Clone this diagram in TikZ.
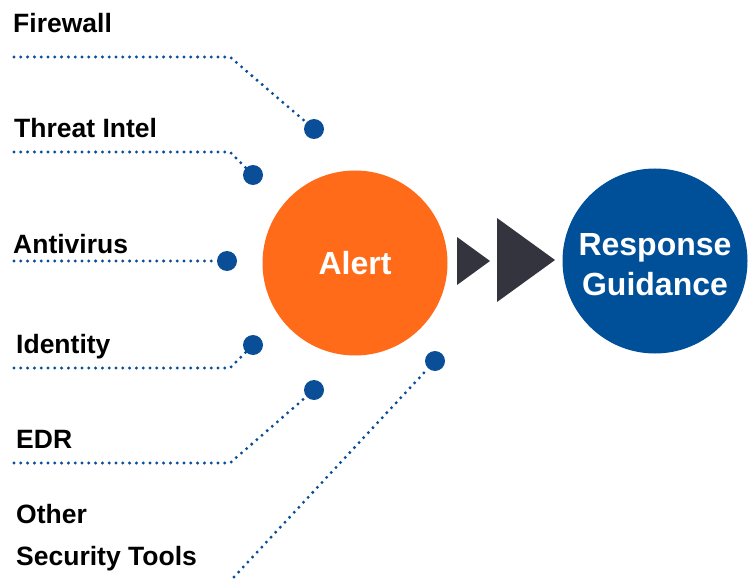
\documentclass[tikz,border=0pt]{standalone}
\usepackage{fontspec}
\setmainfont{Liberation Sans}
\usetikzlibrary{positioning, calc}
\definecolor{alertOrange}{HTML}{FF6B19}
\definecolor{guideBlue}{HTML}{004F99}
\definecolor{dotBlue}{HTML}{0A4E98}
\definecolor{chevronDark}{HTML}{33343D}
\def\dotR{10}
\def\bendX{230}
\def\lineStart{14}

\tikzset{
  srclabel/.style={anchor=base west, inner sep=0pt, font=\bfseries\fontsize{26.5}{30}\selectfont},
  srcdot/.style={circle, fill=dotBlue, minimum size=2*\dotR pt, inner sep=0pt},
  feed/.style={dotBlue, line width=3.3pt, line cap=round, dash pattern=on 0pt off 6.8pt},
  hub/.style={circle, minimum size=185pt, inner sep=0pt},
  hubtext/.style={text=white, align=center, inner sep=0pt,
                  font=\bfseries\fontsize{32}{40}\selectfont}
}

\begin{document}
\begin{tikzpicture}[x=1pt, y=-1pt]
    \useasboundingbox (0,0) rectangle (752,580);

    % ==========================================================
    % 1. MAIN CIRCLES
    % ==========================================================
    \node[hub, fill=alertOrange] (alert) at (355,263) {};
    \node[hub, fill=guideBlue]   (guide) at (655,261) {};
    \node[hubtext] (alertText) at (alert.center) {Alert};
    \node[hubtext] (guideText) at ($(guide.center)+(0,4)$) {Response\\Guidance};

    % Double chevron between the circles
    \fill[chevronDark] (457,237) -- (490,261) -- (457,285) -- cycle;
    \fill[chevronDark] (497,218) -- (555,260) -- (497,302) -- cycle;

    % ==========================================================
    % 2. SOURCE LABELS
    % ==========================================================
    \node[srclabel] (fw)    at (13,33)  {Firewall};
    \node[srclabel] (ti)    at (14,138) {Threat Intel};
    \node[srclabel] (av)    at (13,253) {Antivirus};
    \node[srclabel] (idt)   at (16,353) {Identity};
    \node[srclabel] (edr)   at (16,448) {EDR};
    \node[srclabel] (other) at (16,523) {Other};
    \node[srclabel] (sec)   at (16,565) {Security Tools};

    % ==========================================================
    % 3. DOTS AROUND THE ALERT
    % ==========================================================
    \node[srcdot] (fwDot)    at (314,129) {};
    \node[srcdot] (tiDot)    at (253,175) {};
    \node[srcdot] (avDot)    at (227,261) {};
    \node[srcdot] (idtDot)   at (253,345) {};
    \node[srcdot] (edrDot)   at (314,390) {};
    \node[srcdot] (otherDot) at (435,361) {};

    % Start and bend points of the dotted feeds
    \coordinate (fwA)  at (\lineStart,57);   \coordinate (fwB)  at (\bendX,57);
    \coordinate (tiA)  at (\lineStart,152);  \coordinate (tiB)  at (\bendX,152);
    \coordinate (avA)  at (\lineStart,261);
    \coordinate (idtA) at (\lineStart,368);  \coordinate (idtB) at (\bendX,368);
    \coordinate (edrA) at (\lineStart,463);  \coordinate (edrB) at (\bendX,463);
    \coordinate (otherA) at (234,577);

    % ==========================================================
    % 4. DOTTED FEEDS
    % ==========================================================
    \draw[feed] (fwA) -- (fwB) -- (fwDot);
    \draw[feed] (tiA) -- (tiB) -- (tiDot);
    \draw[feed] (avA) -- (avDot);
    \draw[feed] (idtA) -- (idtB) -- (idtDot);
    \draw[feed] (edrA) -- (edrB) -- (edrDot);
    \draw[feed] (otherA) -- (otherDot);

\end{tikzpicture}
\end{document}
